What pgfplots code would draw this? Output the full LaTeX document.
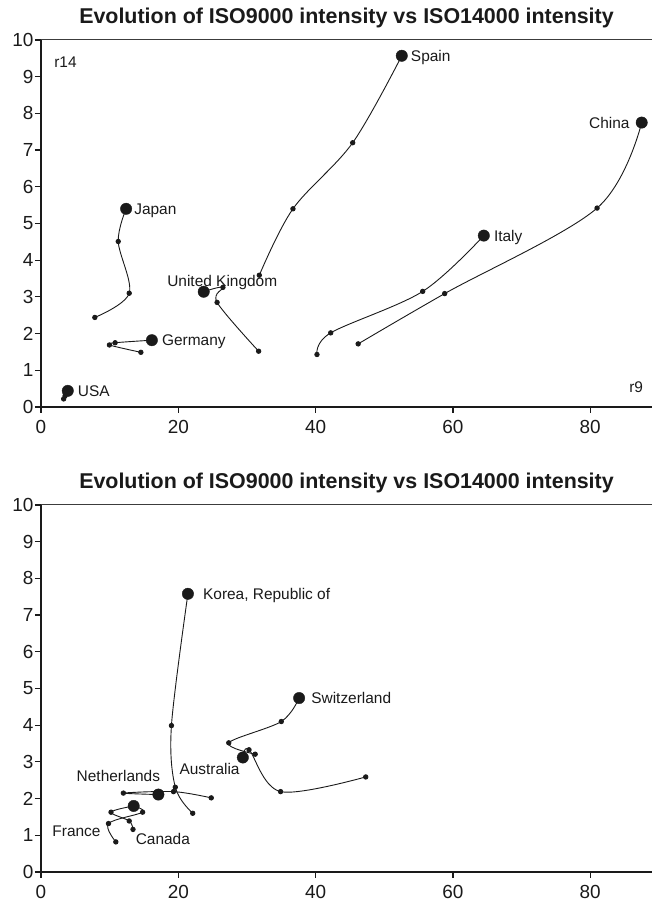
\documentclass[border=0pt]{standalone}
\usepackage{fontspec}
\setmainfont{Liberation Sans}
\usepackage{pgfplots}
\pgfplotsset{compat=1.18}
\definecolor{ink}{HTML}{1A1A1A}

\pgfplotsset{
  isoaxis/.style={
    scale only axis, width=611bp, height=367bp,
    xmin=0, xmax=89, ymin=0, ymax=10,
    axis lines*=left,
    axis line style={ink, line width=2bp},
    xtick={0,20,40,60,80}, ytick={0,1,...,10},
    tick align=outside, major tick length=6bp,
    tick style={ink, line width=1.2bp},
    /pgf/number format/assume math mode=true,
    ticklabel style={font=\fontsize{19}{21}\selectfont, text=ink},
    xticklabel style={yshift=-4bp},
    yticklabel style={xshift=2bp},
    title style={font=\bfseries\fontsize{21.5}{24}\selectfont, text=ink,
                 at={(0.5,1)}, anchor=center, yshift=16.5bp},
    title={Evolution of ISO9000 intensity vs ISO14000 intensity},
    clip=false,
  },
  trail/.style={ink, line width=0.9bp, smooth, tension=0.55, mark=*,
                mark size=2.2bp, mark options={solid, fill=ink, draw=ink}},
  head/.style={only marks, mark=*, mark size=5.7bp, mark options={fill=ink, draw=ink}},
}
\tikzset{
  lab/.style={font=\fontsize{15.5}{17}\selectfont, text=ink, inner sep=0pt,
              text height=11.1bp, text depth=0bp},
}

\begin{document}
\begin{tikzpicture}
\path[use as bounding box] (0,0) rectangle (654bp,902bp);

% ---------- upper panel ----------
\begin{axis}[isoaxis, at={(41bp,495bp)}, anchor=south west]
  \draw[ink!85, line width=1bp] (rel axis cs:0,1) -- (rel axis cs:1,1);
  % Japan
  \addplot[trail] coordinates {(7.84,2.44) (12.85,3.10) (11.25,4.51) (12.4,5.40)};
  \addplot[head] coordinates {(12.4,5.40)};
  % Germany
  \addplot[trail] coordinates {(14.55,1.49) (9.97,1.69) (10.8,1.75) (16.15,1.82)};
  \addplot[head] coordinates {(16.15,1.82)};
  % USA
  \addplot[trail] coordinates {(3.3,0.22) (3.5,0.30) (3.7,0.37) (3.9,0.44)};
  \addplot[head] coordinates {(3.9,0.44)};
  % United Kingdom
  \addplot[trail] coordinates {(31.7,1.52) (25.65,2.85) (26.5,3.26) (23.7,3.14)};
  \addplot[head] coordinates {(23.7,3.14)};
  % Spain
  \addplot[trail] coordinates {(31.8,3.59) (36.7,5.40) (45.4,7.20) (52.55,9.57)};
  \addplot[head] coordinates {(52.55,9.57)};
  % China
  \addplot[trail] coordinates {(46.2,1.72) (58.8,3.09) (81.0,5.42) (87.5,7.75)};
  \addplot[head] coordinates {(87.5,7.75)};
  % Italy
  \addplot[trail] coordinates {(40.2,1.43) (42.2,2.02) (55.6,3.15) (64.5,4.67)};
  \addplot[head] coordinates {(64.5,4.67)};

  \node[lab, anchor=west, xshift=8bp]  at (axis cs:12.4,5.40)  {Japan};
  \node[lab, anchor=west, xshift=10bp] at (axis cs:16.15,1.82) {Germany};
  \node[lab, anchor=west, xshift=10bp] at (axis cs:3.9,0.44)   {USA};
  \node[lab]                           at (axis cs:26.4,3.43)  {United Kingdom};
  \node[lab, anchor=west, xshift=9bp]  at (axis cs:52.55,9.57) {Spain};
  \node[lab, anchor=east, xshift=-12bp] at (axis cs:87.5,7.75) {China};
  \node[lab, anchor=west, xshift=10bp] at (axis cs:64.5,4.67)  {Italy};
  \node[lab] at (axis cs:3.57,9.41) {r14};
  \node[lab] at (axis cs:86.7,0.55) {r9};
\end{axis}

% ---------- lower panel ----------
\begin{axis}[isoaxis, at={(41bp,30bp)}, anchor=south west]
  \draw[ink!85, line width=1bp] (rel axis cs:0,1) -- (rel axis cs:1,1);
  % Korea, Republic of
  \addplot[trail] coordinates {(22.1,1.60) (19.56,2.31) (19.0,3.99) (21.4,7.58)};
  \addplot[head] coordinates {(21.4,7.58)};
  % Netherlands
  \addplot[trail] coordinates {(24.8,2.02) (19.3,2.19) (12.0,2.15) (17.1,2.11)};
  \addplot[head] coordinates {(17.1,2.11)};
  % Switzerland
  \addplot[trail] coordinates {(31.2,3.21) (27.35,3.52) (35.0,4.10) (37.6,4.74)};
  \addplot[head] coordinates {(37.6,4.74)};
  % Australia
  \addplot[trail] coordinates {(47.3,2.59) (34.9,2.19) (30.3,3.33) (29.4,3.12)};
  \addplot[head] coordinates {(29.4,3.12)};
  % France
  \addplot[trail] coordinates {(10.9,0.82) (9.83,1.32) (14.8,1.63) (13.5,1.80)};
  % Canada
  \addplot[trail] coordinates {(13.4,1.16) (12.85,1.39) (10.2,1.63) (13.5,1.80)};
  \addplot[head] coordinates {(13.5,1.80)};

  \node[lab, anchor=west, xshift=15bp] at (axis cs:21.4,7.58) {Korea, Republic of};
  \node[lab, anchor=west, xshift=12bp] at (axis cs:37.6,4.74) {Switzerland};
  \node[lab] at (axis cs:24.55,2.82) {Australia};
  \node[lab] at (axis cs:11.27,2.62) {Netherlands};
  \node[lab] at (axis cs:5.17,1.11)  {France};
  \node[lab] at (axis cs:17.75,0.89) {Canada};
\end{axis}
\end{tikzpicture}
\end{document}
